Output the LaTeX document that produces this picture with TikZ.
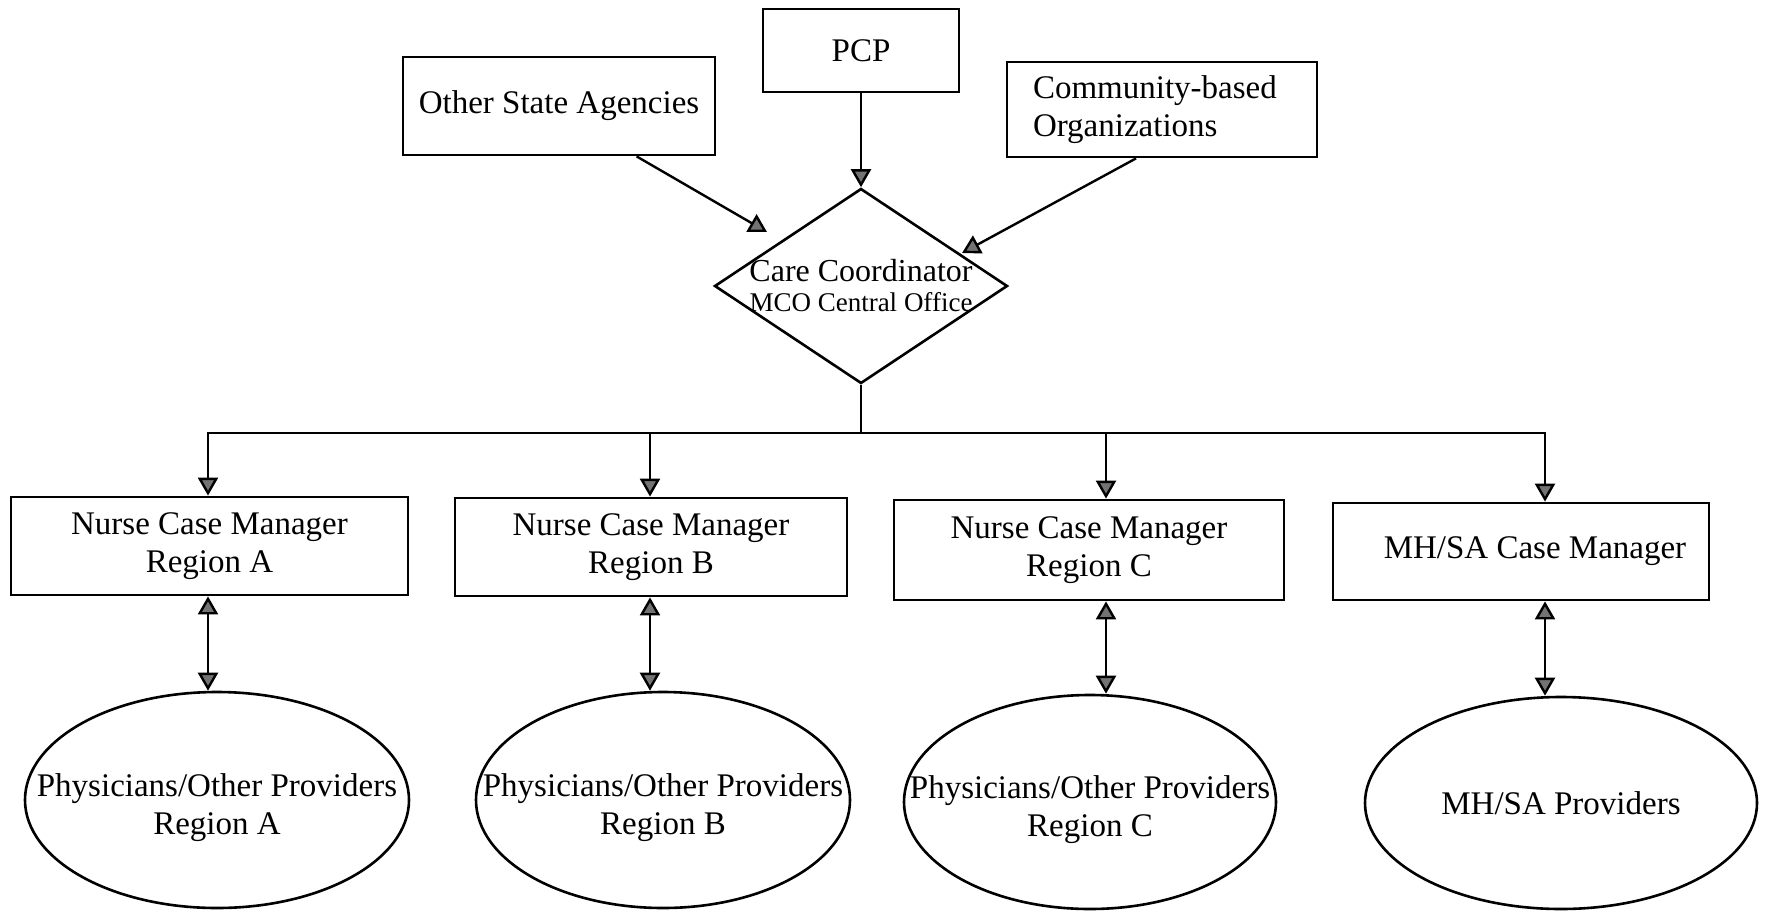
\documentclass[tikz,border=0pt]{standalone}
\usepackage{fontspec}
\setmainfont{Liberation Serif}
\usetikzlibrary{shapes.geometric,arrows.meta}
\begin{document}
\begin{tikzpicture}[x=0.5pt,y=-0.5pt,
  every node/.style={font=\fontsize{16.5}{19}\selectfont},
  box/.style={draw, line width=1.4pt, rectangle, inner sep=0pt, align=center},
  oval/.style={draw, line width=1.3pt, ellipse, inner sep=0pt},
  arr/.style={line width=1.2pt, -{Triangle[length=9pt,width=10pt,fill=black!55]}},
  dbl/.style={line width=1.2pt, {Triangle[length=9pt,width=10pt,fill=black!55]}-{Triangle[length=9pt,width=10pt,fill=black!55]}},
]
\fill[white] (0,0) rectangle (1766,910);
\useasboundingbox (0,0) rectangle (1766,910);

% top sources
\node[box, minimum width=156pt, minimum height=49pt] (osa) at (559,106) {Other State Agencies};
\node[box, minimum width=98pt, minimum height=41.5pt] (pcp) at (861,50.5) {PCP};
\node[box, text width=129pt, inner xsep=13pt, align=left, minimum height=47.5pt] (cbo) at (1162,109.5) {Community-based\\Organizations};

% care coordinator
\node[draw, diamond, line width=1.3pt, minimum width=146.5pt, minimum height=97.5pt, inner sep=0pt,
  label={[align=center, font=\fontsize{16}{16}\selectfont]center:Care Coordinator\\[-1pt]{\fontsize{13.5}{16}\selectfont MCO Central Office}}] (cc) at (861,286) {};

% managers
\node[box, minimum width=198.5pt, minimum height=49pt] (nA) at (209.5,546) {Nurse Case Manager\\Region A};
\node[box, minimum width=196pt, minimum height=49pt] (nB) at (651,547) {Nurse Case Manager\\Region B};
\node[box, minimum width=195pt, minimum height=50pt] (nC) at (1089,550) {Nurse Case Manager\\Region C};
\node[box, minimum width=188pt, minimum height=48.5pt] (nD) at (1521,551.5) {\hspace*{14pt}MH/SA Case Manager};

% providers
\node[oval, minimum width=192pt, minimum height=108pt,
  label={[align=center, yshift=-4pt]center:Physicians/Other Providers\\Region A}] (pA) at (217,800) {};
\node[oval, minimum width=187pt, minimum height=108pt,
  label={[align=center, yshift=-4pt]center:Physicians/Other Providers\\Region B}] (pB) at (663,800) {};
\node[oval, minimum width=186pt, minimum height=107pt,
  label={[align=center, yshift=-4pt]center:Physicians/Other Providers\\Region C}] (pC) at (1090,802) {};
\node[oval, minimum width=196pt, minimum height=106pt,
  label={[align=center]center:MH/SA Providers}] (pD) at (1561,803) {};

% coordinates
\coordinate (tL) at (767,232);
\coordinate (tR) at (962,253);
\coordinate (bus) at (861,433);
\coordinate (xA) at (208,0);
\coordinate (xB) at (650,0);
\coordinate (xC) at (1106,0);
\coordinate (xD) at (1545,0);

% incoming arrows
\draw[arr] (osa.-33) -- (tL);
\draw[arr] (pcp.south) -- (cc.north);
\draw[arr] (cbo.-118) -- (tR);

% distribution
\draw[line width=1.2pt] (cc.south) -- (bus);
\draw[arr] (bus) -| (nA.north -| xA);
\draw[arr] (bus) -| (nB.north -| xB);
\draw[arr] (bus) -| (nC.north -| xC);
\draw[arr] (bus) -| (nD.north -| xD);

% two-way links
\draw[dbl] (nA.south -| xA) -- (pA.north -| xA);
\draw[dbl] (nB.south -| xB) -- (pB.north -| xB);
\draw[dbl] (nC.south -| xC) -- (pC.north -| xC);
\draw[dbl] (nD.south -| xD) -- (pD.north -| xD);
\end{tikzpicture}
\end{document}
